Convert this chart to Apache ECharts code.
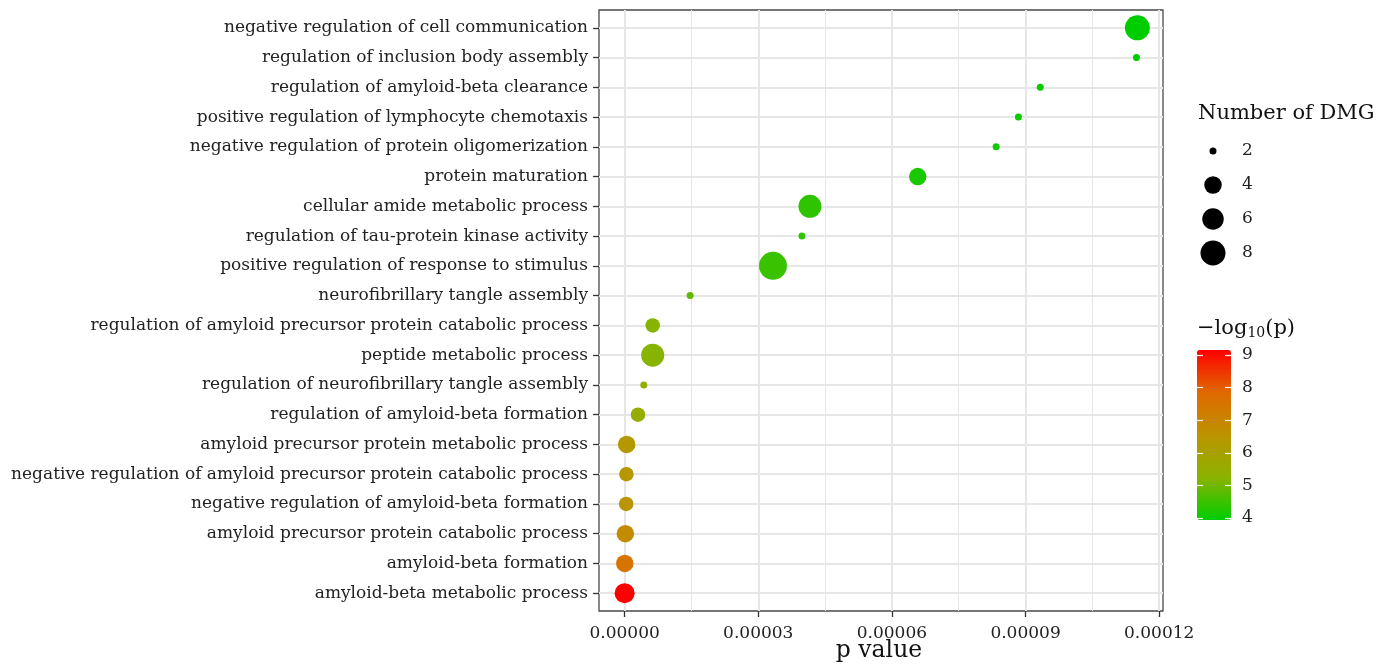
<!DOCTYPE html>
<html><head><meta charset="utf-8">
<script src="https://cdn.jsdelivr.net/npm/echarts@6/dist/echarts.min.js"></script>
<style>html,body{margin:0;padding:0;background:#fff}#c{width:1386px;height:664px}</style>
</head><body><div id="c"></div>
<script>
// ---- data (top row first) ----
const categories = [
  "negative regulation of cell communication",
  "regulation of inclusion body assembly",
  "regulation of amyloid-beta clearance",
  "positive regulation of lymphocyte chemotaxis",
  "negative regulation of protein oligomerization",
  "protein maturation",
  "cellular amide metabolic process",
  "regulation of tau-protein kinase activity",
  "positive regulation of response to stimulus",
  "neurofibrillary tangle assembly",
  "regulation of amyloid precursor protein catabolic process",
  "peptide metabolic process",
  "regulation of neurofibrillary tangle assembly",
  "regulation of amyloid-beta formation",
  "amyloid precursor protein metabolic process",
  "negative regulation of amyloid precursor protein catabolic process",
  "negative regulation of amyloid-beta formation",
  "amyloid precursor protein catabolic process",
  "amyloid-beta formation",
  "amyloid-beta metabolic process"
];
const pValues = [
  1.151e-4, 1.149e-4, 9.33e-5, 8.84e-5, 8.34e-5,
  6.58e-5, 4.16e-5, 3.98e-5, 3.33e-5, 1.47e-5,
  6.3e-6, 6.3e-6, 4.3e-6, 3.0e-6, 4.5e-7,
  4.0e-7, 3.5e-7, 1.6e-7, 3.0e-8, 7.0e-10
];
const geneCounts = [8, 2, 2, 2, 2, 4, 7, 2, 10, 2, 3, 7, 2, 3, 4, 3, 3, 4, 4, 5];
const xTicks = [0, 0.00003, 0.00006, 0.00009, 0.00012];
const xMinorTicks = [0.000015, 0.000045, 0.000075, 0.000105];
const sizeLegendCounts = [2, 4, 6, 8];
const colorTicks = [4, 5, 6, 7, 8, 9];

// ---- derived scales ----
const neglog = pValues.map(p => -Math.log10(p));
const nlMin = Math.min(...neglog), nlMax = Math.max(...neglog);
const pMin = Math.min(...pValues), pMax = Math.max(...pValues);
const pad = (pMax - pMin) * 0.05;
const xMin = pMin - pad, xMax = pMax + pad;
const rowIdx = categories.map((c, i) => i);

const sizeKnots = [2, 3, 4, 5, 6, 7, 8, 9, 10];
const sizePx = [7, 14.5, 17.5, 20, 21.5, 23, 25, 26.5, 28];
function sizeOf(n) {
  if (n <= sizeKnots[0]) return sizePx[0];
  for (let k = 1; k < sizeKnots.length; k++) {
    if (n <= sizeKnots[k]) {
      const t = (n - sizeKnots[k - 1]) / (sizeKnots[k] - sizeKnots[k - 1]);
      return sizePx[k - 1] + t * (sizePx[k] - sizePx[k - 1]);
    }
  }
  return sizePx[sizePx.length - 1];
}

const FONT = 'DejaVu Serif';
const TXT = '#222';
const GRID = '#E6E6E6';
const DARK = '#333';
const CLEAR = 'rgba(0,0,0,0)';

const chart = echarts.init(document.getElementById('c'), null, {renderer: 'canvas'});
chart.setOption({
  animation: false,
  backgroundColor: '#fff',
  grid: [
    {left: 599, top: 10, width: 564, height: 601, show: true, borderColor: '#4a4a4a', borderWidth: 1.3,
     backgroundColor: 'transparent', containLabel: false, outerBoundsMode: 'none'},
    {left: 1197, top: 350, width: 34, height: 170, containLabel: false, outerBoundsMode: 'none'},
    {left: 1203, top: 134, width: 20, height: 136, containLabel: false, outerBoundsMode: 'none'}
  ],
  xAxis: [
    {gridIndex: 0, type: 'value', min: xMin, max: xMax, position: 'bottom',
     axisLine: {show: true, onZero: false, lineStyle: {color: CLEAR}},
     axisTick: {show: true, length: 6, customValues: xTicks, lineStyle: {color: DARK, width: 1.3}},
     axisLabel: {customValues: xTicks, formatter: v => v.toFixed(5), margin: 14,
                 fontFamily: FONT, fontSize: 17, color: TXT},
     splitLine: {show: true, lineStyle: {color: GRID, width: 2}}},
    {gridIndex: 0, type: 'value', min: xMin, max: xMax, position: 'top',
     axisLine: {show: false, onZero: false},
     axisTick: {show: false, customValues: xMinorTicks},
     axisLabel: {show: false, customValues: xMinorTicks},
     splitLine: {show: true, lineStyle: {color: GRID, width: 1}}},
    {gridIndex: 1, type: 'value', min: 0, max: 1, show: false, axisLine: {onZero: false}},
    {gridIndex: 2, type: 'value', min: -1, max: 1, show: false, axisLine: {onZero: false}}
  ],
  yAxis: [
    {gridIndex: 0, type: 'value', min: -0.6, max: categories.length - 1 + 0.6, inverse: true, position: 'left',
     axisLine: {show: true, onZero: false, lineStyle: {color: CLEAR}},
     axisTick: {show: true, length: 6, customValues: rowIdx, lineStyle: {color: DARK, width: 1.3}},
     axisLabel: {customValues: rowIdx, formatter: v => categories[Math.round(v)], margin: 11,
                 fontFamily: FONT, fontSize: 17, color: TXT},
     splitLine: {show: true, lineStyle: {color: GRID, width: 2}}},
    {gridIndex: 1, type: 'value', min: nlMin, max: nlMax, position: 'left', z: 10,
     axisLine: {show: true, onZero: false, lineStyle: {color: CLEAR}},
     axisTick: {show: true, inside: true, length: 6, customValues: colorTicks, lineStyle: {color: '#fff', width: 1.2}},
     axisLabel: {show: false}, splitLine: {show: false}},
    {gridIndex: 1, type: 'value', min: nlMin, max: nlMax, position: 'right', z: 10,
     axisLine: {show: true, onZero: false, lineStyle: {color: CLEAR}},
     axisTick: {show: true, inside: true, length: 6, customValues: colorTicks, lineStyle: {color: '#fff', width: 1.2}},
     axisLabel: {customValues: colorTicks, margin: 11, fontFamily: FONT, fontSize: 17, color: TXT, padding: [3, 0, 0, 0]},
     splitLine: {show: false}},
    {gridIndex: 2, type: 'category', data: sizeLegendCounts.map(String), inverse: true, position: 'right',
     axisLine: {show: false, onZero: false}, axisTick: {show: false},
     axisLabel: {margin: 19, fontFamily: FONT, fontSize: 17, color: TXT},
     splitLine: {show: false}}
  ],
  visualMap: {
    type: 'continuous', seriesIndex: 0, dimension: 3, min: nlMin, max: nlMax,
    left: 1197, top: 350, itemWidth: 34, itemHeight: 170, padding: 0,
    calculable: false, hoverLink: false, text: null, orient: 'vertical',
    inRange: {color: ['#00CD00', '#8AB300', '#BC9300', '#E06900', '#FF0000']}
  },
  series: [
    {type: 'scatter', xAxisIndex: 0, yAxisIndex: 0, z: 3,
     data: categories.map((c, i) => [pValues[i], i, geneCounts[i], neglog[i]]),
     symbol: 'circle', symbolSize: d => sizeOf(d[2]),
     itemStyle: {opacity: 1}},
    {type: 'scatter', xAxisIndex: 3, yAxisIndex: 3,
     data: sizeLegendCounts.map(n => [0, String(n), n]),
     symbol: 'circle', symbolSize: d => sizeOf(d[2]),
     itemStyle: {color: '#000', opacity: 1}}
  ],
  graphic: [
    {type: 'text', x: 879, y: 651, style: {text: 'p value', fontFamily: FONT, fontSize: 23.5, fill: '#111', align: 'center', verticalAlign: 'middle'}},
    {type: 'text', x: 1198, y: 114, style: {text: 'Number of DMG', fontFamily: FONT, fontSize: 21, fill: '#111', verticalAlign: 'middle'}},
    {type: 'text', x: 1197, y: 329, style: {
      text: '{a|−log}{b|10}{a|(p)}', verticalAlign: 'middle', fill: '#111',
      rich: {a: {fontFamily: FONT, fontSize: 21, lineHeight: 26, verticalAlign: 'middle'},
             b: {fontFamily: FONT, fontSize: 14, lineHeight: 26, padding: [9, 0, 0, 0], verticalAlign: 'middle'}}}}
  ]
});
</script></body></html>
